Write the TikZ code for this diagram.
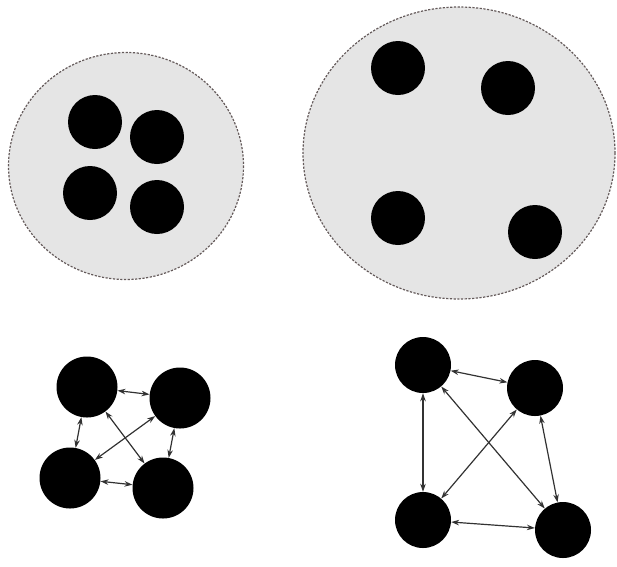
\documentclass[tikz,border=0pt]{standalone}
\usepackage{xcolor}
\definecolor{cellgray}{RGB}{229,229,229}
\definecolor{rimgray}{RGB}{100,90,90}
\definecolor{linkgray}{RGB}{50,50,50}
\usetikzlibrary{arrows.meta}

\begin{document}
\begin{tikzpicture}[x=1pt,y=-1pt,
  cell/.style={fill=cellgray,draw=rimgray,line width=1.2pt,dash pattern=on 2.2pt off 1.5pt},
  ball/.style={circle,fill=black,inner sep=0pt,minimum size=54pt},
  bigball/.style={circle,fill=black,inner sep=0pt,minimum size=61pt},
  midball/.style={circle,fill=black,inner sep=0pt,minimum size=56pt},
  link/.style={draw=linkgray,line width=1.2pt,
    {Stealth[length=8pt,width=5.5pt]}-{Stealth[length=8pt,width=5.5pt]}}
]
  \useasboundingbox (0,0) rectangle (617,566);
  % Packed cell
  \draw[cell] (126,166) ellipse [x radius=117.5,y radius=113.5];
  \node[ball] (s1) at (95,122) {};
  \node[ball] (s2) at (157,137) {};
  \node[ball] (s3) at (90,193) {};
  \node[ball] (s4) at (157,207) {};
  % Spread cell
  \draw[cell] (459,153) ellipse [x radius=156,y radius=146];
  \node[ball] (w1) at (398,68) {};
  \node[ball] (w2) at (508,88) {};
  \node[ball] (w3) at (398,218) {};
  \node[ball] (w4) at (535,232) {};
  % Close network
  \node[bigball] (a) at (87,387) {};
  \node[bigball] (b) at (180,398) {};
  \node[bigball] (c) at (70,478) {};
  \node[bigball] (d) at (163,488) {};
  \draw[link] (a) -- (b);
  \draw[link] (a) -- (c);
  \draw[link] (a) -- (d);
  \draw[link] (b) -- (c);
  \draw[link] (b) -- (d);
  \draw[link] (c) -- (d);
  % Wide network
  \node[midball] (e) at (423,365) {};
  \node[midball] (f) at (535,388) {};
  \node[midball] (g) at (423,520) {};
  \node[midball] (h) at (563,530) {};
  \draw[link] (e) -- (f);
  \draw[link] (e) -- (g);
  \draw[link] (e) -- (h);
  \draw[link] (f) -- (g);
  \draw[link] (f) -- (h);
  \draw[link] (g) -- (h);
\end{tikzpicture}
\end{document}
